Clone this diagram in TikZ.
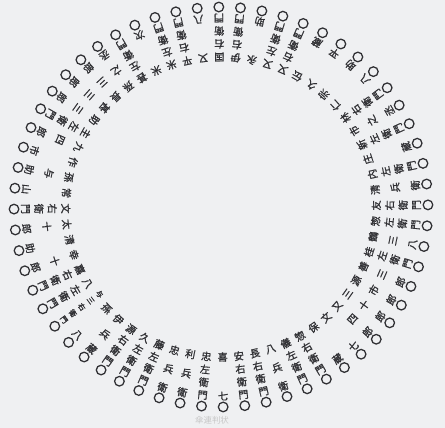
\documentclass[tikz,border=0pt]{standalone}
\usepackage{fontspec}
\newfontfamily\cjk[FakeBold=1.3]{Noto Sans CJK JP}
\newfontfamily\cjkthin{Noto Sans CJK JP}

\definecolor{paper}{RGB}{239,240,242}
\definecolor{ink}{RGB}{48,48,52}

\newcommand{\ksize}{7.2}
\newcommand{\kstart}{150}

\begin{document}
\begin{tikzpicture}[
  x=0.25mm, y=0.25mm,
  kanji/.style={inner sep=0pt, text=ink, font=\cjk\fontsize{\ksize}{\ksize}\selectfont},
  seal/.style={circle, draw=ink, line width=0.32mm, minimum size=2.4mm, inner sep=0pt},
  caption/.style={inner sep=0pt, text=black!22, font=\cjkthin\fontsize{6}{6}\selectfont}
]
\fill[paper] (0,0) rectangle (445,428);
\useasboundingbox (0,0) rectangle (445,428);

% names, read from the centre outwards, anticlockwise from the bottom
\foreach \len/\name [count=\idx from 0] in {
  2/{喜,七}, 4/{安,右,衛,門}, 4/{長,右,衛,門}, 3/{八,兵,衛},
  4/{儀,左,衛,門}, 4/{惣,右,衛,門}, 2/{保,蔵}, 2/{文,七},
  3/{又,四,郎}, 3/{三,十,郎}, 3/{源,市,郎}, 3/{善,三,郎},
  4/{桂,左,衛,門}, 3/{鶴,三,八}, 4/{惣,左,衛,門}, 4/{友,右,衛,門},
  3/{清,兵,衛}, 4/{内,左,衛,門}, 2/{庄,蔵}, 4/{新,左,衛,門},
  3/{市,之,丞}, 4/{林,右,衛,門}, 2/{仁,八}, 2/{宗,助},
  2/{久,平}, 2/{伝,蔵}, 4/{又,右,衛,門}, 4/{又,左,衛,門},
  2/{永,助}, 4/{伊,右,衛,門}, 4/{国,右,衛,門}, 2/{又,八},
  4/{平,右,衛,門}, 4/{米,左,衛,門}, 2/{米,次}, 4/{甚,左,衛,門},
  3/{孫,之,丞}, 3/{長,三,郎}, 3/{甚,三,郎}, 3/{助,三,郎},
  4/{主,左,衛,門}, 3/{九,四,郎}, 2/{作,市}, 3/{孫,与,助},
  2/{常,山}, 4/{文,右,衛,門}, 3/{太,十,郎}, 2/{清,助},
  3/{幸,十,郎}, 4/{嘉,右,衛,門}, 4/{八,左,衛,門}, 5/{与,三,右,衛,門},
  2/{孫,八}, 3/{伊,兵,蔵}, 4/{源,右,衛,門}, 4/{久,左,衛,門},
  4/{藤,左,衛,門}, 3/{忠,兵,衛}, 3/{利,兵,衛}, 4/{忠,左,衛,門}} {
  \pgfmathsetmacro{\ang}{-89.4+6*\idx}
  \ifnum\len>4 \renewcommand{\ksize}{5.2}\renewcommand{\kstart}{146}\fi
  \foreach \ch [count=\pos] in \name {
    \pgfmathsetmacro{\rad}{\kstart+(\pos-1)*(189-\kstart)/(\len-1)}
    \node[kanji, rotate=\ang+90] (n\idx-\pos)
      at ({221+1.035*\rad*cos(\ang)},{221+\rad*sin(\ang)}) {\ch};
  }
  \node[seal] (s\idx) at ({221+1.035*200*cos(\ang)},{221+200*sin(\ang)}) {};
}

\node[caption] (cap) at (212,8) {傘連判状};
\end{tikzpicture}
\end{document}
